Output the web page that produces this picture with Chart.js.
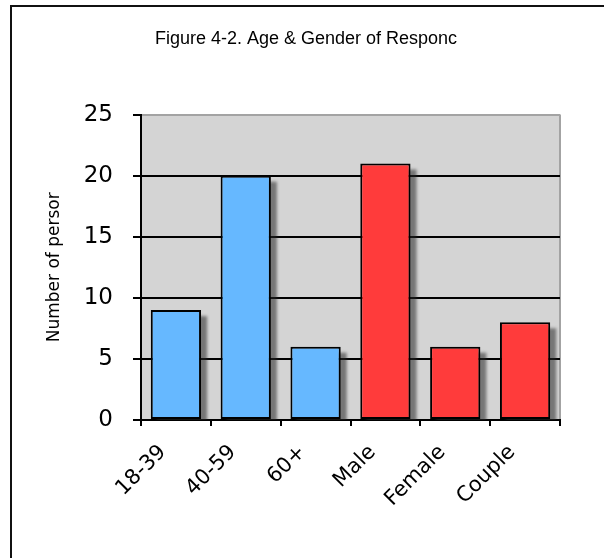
<!DOCTYPE html>
<html>
<head>
<meta charset="utf-8">
<script src="https://cdn.jsdelivr.net/npm/chart.js@4/dist/chart.umd.min.js"></script>
<style>
  html, body { margin: 0; padding: 0; background: #ffffff; }
  #wrap { width: 604px; height: 558px; }
</style>
</head>
<body>
<div id="wrap"><canvas id="chart" width="604" height="558"></canvas></div>
<script>
// Survey respondents by age band and by gender
const categories = ['18-39', '40-59', '60+', 'Male', 'Female', 'Couple'];
const respondents = [9, 20, 6, 21, 6, 8];
const groups = ['age', 'age', 'age', 'gender', 'gender', 'gender'];
const yTickValues = [0, 5, 10, 15, 20, 25];

const groupColors = { age: '#66b8ff', gender: '#ff3b3b' };
const FONT = '"DejaVu Sans", Verdana, sans-serif';
const TITLE_FONT = '"Liberation Sans", Arial, sans-serif';

// White page, grey plot panel and the frame lines at the top and left
const panelPlugin = {
  id: 'panel',
  beforeDraw(chart) {
    const { ctx, chartArea: a, width, height } = chart;
    ctx.save();
    ctx.fillStyle = '#ffffff';
    ctx.fillRect(0, 0, width, height);
    ctx.fillStyle = '#d4d4d4';
    ctx.fillRect(a.left, a.top, a.right - a.left, a.bottom - a.top);
    ctx.strokeStyle = '#a3a3a3';
    ctx.lineWidth = 2;
    ctx.beginPath();
    ctx.moveTo(a.right, a.top);
    ctx.lineTo(a.right, a.bottom);
    ctx.stroke();
    ctx.strokeStyle = '#111111';
    ctx.lineWidth = 2;
    ctx.beginPath();
    ctx.moveTo(11, height);
    ctx.lineTo(11, 6);
    ctx.lineTo(width, 6);
    ctx.stroke();
    ctx.restore();
  }
};

// Soft drop shadow behind every bar, taken from the bar elements
const barShadowPlugin = {
  id: 'barShadow',
  beforeDatasetsDraw(chart) {
    const { ctx, chartArea: a } = chart;
    ctx.save();
    ctx.beginPath();
    ctx.rect(a.left, a.top, a.right - a.left, a.bottom - a.top);
    ctx.clip();
    ctx.filter = 'blur(1.5px)';
    ctx.fillStyle = 'rgba(40,40,40,0.55)';
    chart.getDatasetMeta(0).data.forEach(bar => {
      const { x, y, base, width } = bar.getProps(['x', 'y', 'base', 'width'], true);
      ctx.fillRect(x - width / 2 + 6, y + 6, width, base - y);
    });
    ctx.restore();
  }
};

new Chart(document.getElementById('chart'), {
  type: 'bar',
  data: {
    labels: categories,
    datasets: [{
      data: respondents,
      backgroundColor: groups.map(g => groupColors[g]),
      borderColor: '#000000',
      borderWidth: 2,
      borderSkipped: false,
      barPercentage: 0.72,
      categoryPercentage: 1.0
    }]
  },
  options: {
    responsive: false,
    devicePixelRatio: 1,
    animation: false,
    layout: { padding: { left: 52, right: 44, top: 0, bottom: 0 } },
    plugins: {
      legend: { display: false },
      tooltip: { enabled: false },
      title: {
        display: true,
        text: 'Figure 4-2. Age & Gender of Responc',
        color: '#000000',
        font: { family: TITLE_FONT, size: 18, weight: 'normal' },
        padding: { top: 28, bottom: 65 }
      }
    },
    scales: {
      x: {
        offset: true,
        afterFit(scale) { scale.height = 138; },
        grid: {
          offset: true,
          drawOnChartArea: false,
          drawTicks: true,
          tickLength: 6,
          color: '#000000',
          lineWidth: 2
        },
        border: { display: true, color: '#000000', width: 2 },
        ticks: {
          autoSkip: false,
          minRotation: 45,
          maxRotation: 45,
          padding: 14,
          labelOffset: -13,
          color: '#000000',
          font: { family: FONT, size: 21 }
        }
      },
      y: {
        min: 0,
        max: 25,
        afterFit(scale) { scale.width = 89; },
        afterBuildTicks(scale) { scale.ticks = yTickValues.map(v => ({ value: v })); },
        grid: {
          color: ctx => (ctx.tick && ctx.tick.value === 25 ? '#a3a3a3' : '#000000'),
          lineWidth: 2,
          tickColor: '#000000',
          tickLength: 8
        },
        border: { display: true, color: '#000000', width: 2 },
        ticks: {
          padding: 20,
          color: '#000000',
          font: { family: FONT, size: 23 }
        },
        title: {
          display: true,
          text: 'Number of persor',
          color: '#000000',
          font: { family: FONT, size: 17 },
          padding: { top: -8, bottom: 0 }
        }
      }
    }
  },
  plugins: [panelPlugin, barShadowPlugin]
});
</script>
</body>
</html>
